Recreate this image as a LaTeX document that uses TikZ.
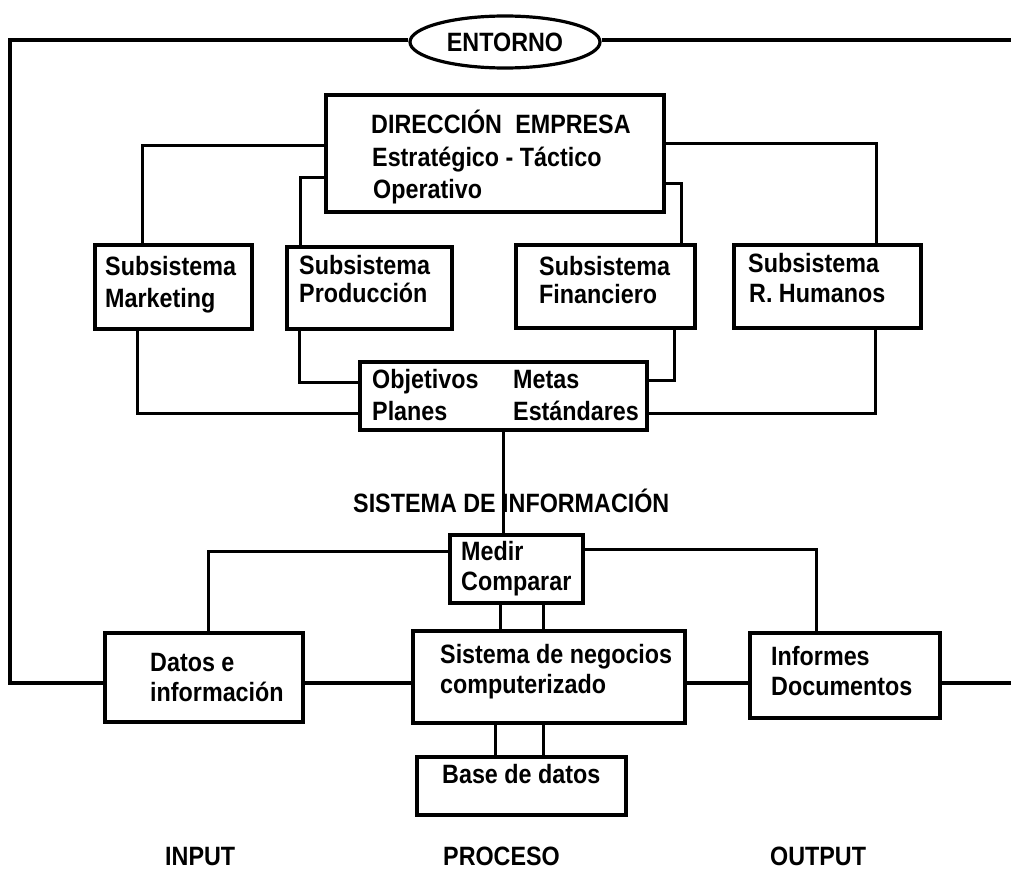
\documentclass[tikz,border=0pt]{standalone}
\usepackage{fontspec}
\setmainfont{Liberation Sans}[FakeStretch=0.88]
\usetikzlibrary{shapes.geometric}
\begin{document}
\begin{tikzpicture}[x=1pt,y=-1pt,
  box/.style={draw=black,line width=3.4pt,rectangle,inner sep=0pt,fill=none},
  conn/.style={draw=black,line width=3pt},
  mainline/.style={draw=black,line width=3.6pt},
  txt/.style={anchor=base west,inner sep=0pt,font=\fontsize{26.5}{27}\selectfont\bfseries}]
\useasboundingbox (0,0) rectangle (1011,870);
% boxes
\node[draw=black,line width=3.2pt,ellipse,inner sep=0pt,minimum width=190,minimum height=52,
      font=\fontsize{26.5}{27}\selectfont\bfseries] (ent) at (505,42) {ENTORNO};
\node[box,minimum width=338,minimum height=117] (dir) at (495,153.5) {};
\node[box,minimum width=157,minimum height=84] (mkt) at (173.5,287) {};
\node[box,minimum width=165,minimum height=82] (prod) at (369.5,288) {};
\node[box,minimum width=179,minimum height=83] (fin) at (605.5,286.5) {};
\node[box,minimum width=187,minimum height=83] (rh) at (827.5,286.5) {};
\node[box,minimum width=287,minimum height=68] (obj) at (503.5,396) {};
\node[box,minimum width=133,minimum height=68] (med) at (516.5,569) {};
\node[box,minimum width=198,minimum height=89] (dat) at (204,677.5) {};
\node[box,minimum width=272,minimum height=92] (sis) at (549,677) {};
\node[box,minimum width=190,minimum height=85] (inf) at (845,675.5) {};
\node[box,minimum width=209,minimum height=58] (bd) at (521.5,786) {};
% outer lines
\coordinate (tl) at (10,40);
\coordinate (bl) at (10,683);
\coordinate (tr) at (1011,40);
\coordinate (br) at (1011,683);
\draw[mainline] (ent.west |- tl) -- (tl) -- (bl) -- (dat.west |- bl);
\draw[mainline] (ent.east |- tr) -- (tr);
\draw[mainline] (dat.east |- bl) -- (sis.west |- bl);
\draw[mainline] (sis.east |- bl) -- (inf.west |- bl);
\draw[mainline] (inf.east |- br) -- (br);
% connectors from direccion
\draw[conn] (dir.west |- 0,145) -| (mkt.north -| 142,0);
\draw[conn] (dir.west |- 0,177) -| (prod.north -| 300,0);
\draw[conn] (dir.east |- 0,143) -| (rh.north -| 876,0);
\draw[conn] (dir.east |- 0,183) -| (fin.north -| 681,0);
% to objetivos
\draw[conn] (mkt.south -| 137,0) |- (obj.west |- 0,413);
\draw[conn] (prod.south -| 299,0) |- (obj.west |- 0,382);
\draw[conn] (fin.south -| 674,0) |- (obj.east |- 0,380);
\draw[conn] (rh.south -| 875,0) |- (obj.east |- 0,413);
\draw[conn] (obj.south -| 503,0) -- (med.north -| 503,0);
% medir
\draw[conn] (med.west |- 0,551) -| (dat.north -| 208,0);
\draw[conn] (med.east |- 0,549) -| (inf.north -| 816,0);
\draw[conn] (med.south -| 500,0) -- (sis.north -| 500,0);
\draw[conn] (med.south -| 543,0) -- (sis.north -| 543,0);
\draw[conn] (sis.south -| 495,0) -- (bd.north -| 495,0);
\draw[conn] (sis.south -| 543,0) -- (bd.north -| 543,0);
% texts
\node[txt] (t1) at (371,133) {DIRECCIÓN\hspace{0.5em}EMPRESA};
\node[txt] (t2) at (372,166) {Estratégico - Táctico};
\node[txt] (t3) at (373,198) {Operativo};
\node[txt] (t4) at (105,275) {Subsistema};
\node[txt] (t5) at (105,307) {Marketing};
\node[txt] (t6) at (299,274) {Subsistema};
\node[txt] (t7) at (299,302) {Producción};
\node[txt] (t8) at (539,275) {Subsistema};
\node[txt] (t9) at (539,303) {Financiero};
\node[txt] (t10) at (748,272) {Subsistema};
\node[txt] (t11) at (749,302) {R. Humanos};
\node[txt] (t12) at (372,388) {Objetivos};
\node[txt] (t13) at (513,388) {Metas};
\node[txt] (t14) at (372,420) {Planes};
\node[txt] (t15) at (513,420) {Estándares};
\node[txt] (t16) at (353,512) {SISTEMA DE INFORMACIÓN};
\node[txt] (t17) at (461,560) {Medir};
\node[txt] (t18) at (461,590) {Comparar};
\node[txt] (t19) at (150,671) {Datos e};
\node[txt] (t20) at (150,701) {información};
\node[txt] (t21) at (440,663) {Sistema de negocios};
\node[txt] (t22) at (440,693) {computerizado};
\node[txt] (t23) at (771,665) {Informes};
\node[txt] (t24) at (771,695) {Documentos};
\node[txt] (t25) at (442,783) {Base de datos};
\node[txt] (t26) at (165,865) {INPUT};
\node[txt] (t27) at (443,865) {PROCESO};
\node[txt] (t28) at (770,865) {OUTPUT};
\end{tikzpicture}
\end{document}
